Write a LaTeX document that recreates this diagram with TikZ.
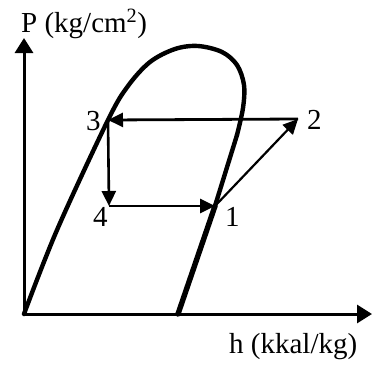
\documentclass[tikz,border=0pt]{standalone}
\usepackage{fontspec}
\setmainfont{Liberation Serif}
\usetikzlibrary{arrows.meta}
\begin{document}
\begin{tikzpicture}[x=1pt,y=-1pt,
  lbl/.style={anchor=base west,inner sep=0pt,font=\fontsize{29}{31}\selectfont},
  axis/.style={line width=3pt,-{Triangle[length=15pt,width=18pt]}},
  dome/.style={line width=4.4pt,line cap=round,line join=round},
  cyc/.style={line width=2.8pt,-{Triangle[length=15pt,width=14pt]}}]
\useasboundingbox (0,0) rectangle (372,364);
% points
\coordinate (O) at (24,314);
\coordinate (ytip) at (24,38);
\coordinate (xtip) at (372,314);
\coordinate (p3) at (108,120);
\coordinate (p2) at (298,119);
\coordinate (p4) at (109,206);
\coordinate (p1) at (215,206);
\coordinate (base) at (178,314);
% axes
\draw[axis] (O) -- (ytip);
\draw[axis] (O) -- (xtip);
% saturation dome
\draw[dome] plot[smooth,tension=0.55] coordinates {(24,314) (57,230) (108,120) (128,86) (150,62) (175,49) (198,46) (222,52) (237,65) (244,85) (243,108) (237,135)};
\draw[dome] (237,135) -- (p1);
\draw[line width=5.4pt,line cap=round] (p1) -- (base);
% cycle
\draw[cyc] (p2) -- (p3);
\draw[cyc,line width=2.6pt] (p3) -- (p4);
\draw[cyc,line width=2.6pt] (p4) -- (p1);
\draw[cyc,line width=2.2pt] (p1) -- (p2);
% labels
\node[lbl] (lP) at (21,32) {P (kg/cm\textsuperscript{2})};
\node[lbl] (lh) at (229,353) {h (kkal/kg)};
\node[lbl] (l3) at (86,130) {3};
\node[lbl] (l2) at (307,129) {2};
\node[lbl] (l4) at (93,226) {4};
\node[lbl] (l1) at (225,226) {1};
\end{tikzpicture}
\end{document}
